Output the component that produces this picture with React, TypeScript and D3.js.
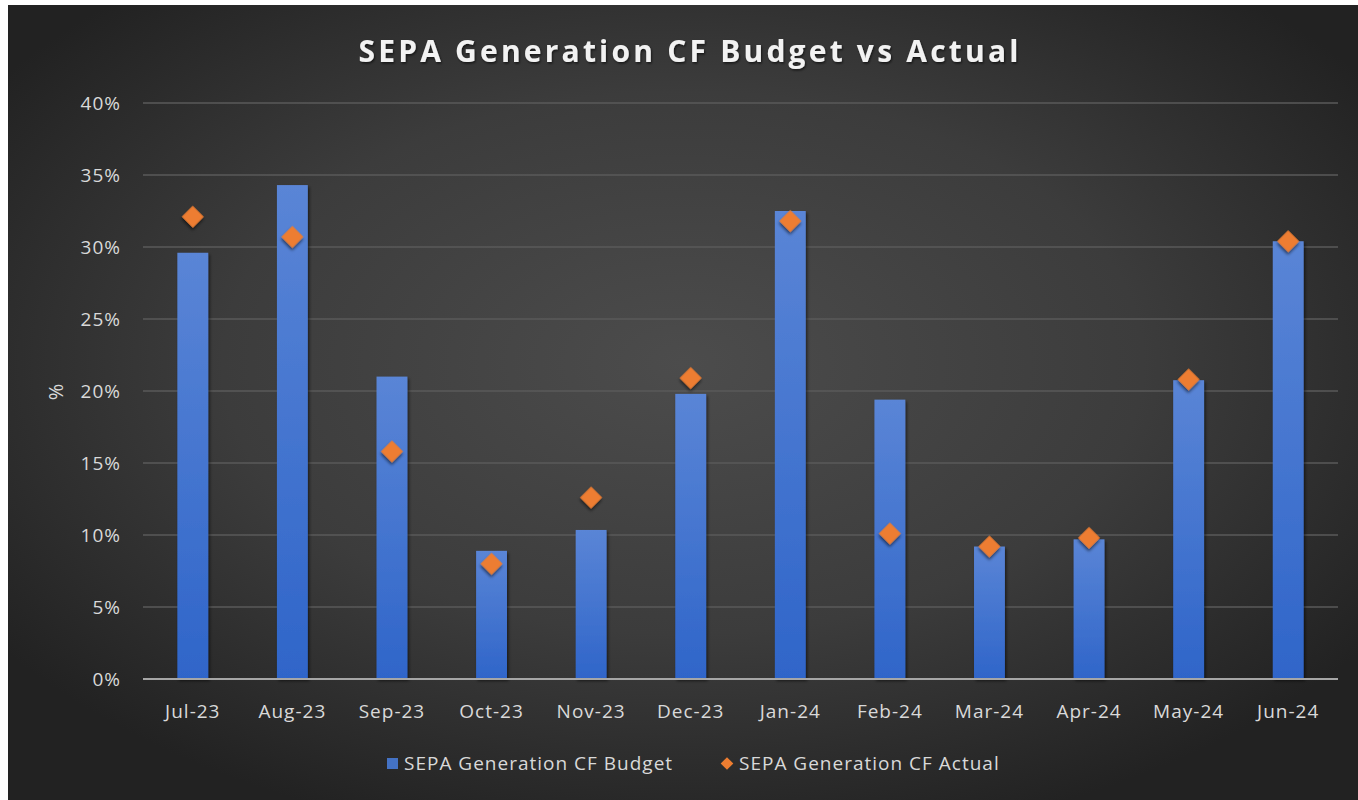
import React from "react";
import * as d3 from "d3";

const months = ["Jul-23", "Aug-23", "Sep-23", "Oct-23", "Nov-23", "Dec-23", "Jan-24", "Feb-24", "Mar-24", "Apr-24", "May-24", "Jun-24"];
const budget = [0.296, 0.343, 0.210, 0.089, 0.1035, 0.198, 0.325, 0.194, 0.092, 0.097, 0.2075, 0.304];
const actual = [0.321, 0.307, 0.158, 0.080, 0.126, 0.209, 0.318, 0.101, 0.092, 0.098, 0.208, 0.304];
const yTicks = [0, 0.05, 0.1, 0.15, 0.2, 0.25, 0.3, 0.35, 0.4];
const titleText = "SEPA Generation CF Budget vs Actual";
const budgetLabel = "SEPA Generation CF Budget";
const actualLabel = "SEPA Generation CF Actual";

const W = 1358;
const H = 800;
const FONT = "'Open Sans', 'DejaVu Sans', sans-serif";
const LS = 1;

export default function App() {
  const x = d3.scaleBand<string>().domain(months).range([143, 1338]).paddingInner(0.69).paddingOuter(0.345);
  const y = d3.scaleLinear().domain([0, 0.4]).range([679, 103]);
  const fmt = d3.format(".0%");
  const diamond = d3.symbol(d3.symbolSquare, 243)() as string;
  const legendDiamond = d3.symbol(d3.symbolSquare, 80)() as string;

  return (
    <svg width={W} height={H} style={{ position: "fixed", left: 0, top: 0, background: "#ffffff" }}>
      <defs>
        <radialGradient id="bg" cx="0.5" cy="0.45" r="0.62">
          <stop offset="0" stopColor="#4c4c4c" />
          <stop offset="0.55" stopColor="#3c3c3c" />
          <stop offset="1" stopColor="#222222" />
        </radialGradient>
        <linearGradient id="bar" x1="0" y1="0" x2="0" y2="1">
          <stop offset="0" stopColor="#5a85d6" />
          <stop offset="1" stopColor="#2f65c9" />
        </linearGradient>
        <filter id="shadow" x="-50%" y="-50%" width="200%" height="200%">
          <feDropShadow dx="1.5" dy="2" stdDeviation="1.5" floodColor="#000" floodOpacity="0.55" />
        </filter>
        <filter id="tshadow" x="-10%" y="-30%" width="120%" height="160%">
          <feDropShadow dx="1" dy="1.5" stdDeviation="1" floodColor="#000" floodOpacity="0.6" />
        </filter>
      </defs>
      <rect x={8} y={5} width={W - 8} height={H - 5} fill="url(#bg)" />

      <text x={690} y={62} textAnchor="middle" fill="#f2f2f2" fontFamily={FONT} fontWeight={700} fontSize={30} letterSpacing={3.2} filter="url(#tshadow)">
        {titleText}
      </text>

      {yTicks.map((t) => (
        <g key={t}>
          {t > 0 && <line x1={143} x2={1338} y1={y(t)} y2={y(t)} stroke="#5a5a5a" strokeWidth={1.5} />}
          <text x={121} y={y(t)} dy="0.35em" textAnchor="end" fill="#d9d9d9" fontFamily={FONT} fontSize={19} letterSpacing={LS}>
            {fmt(t)}
          </text>
        </g>
      ))}

      <text transform={`translate(63,392) rotate(-90)`} textAnchor="middle" fill="#d9d9d9" fontFamily={FONT} fontSize={20}>
        %
      </text>

      {months.map((m, i) => (
        <rect key={m} x={x(m)} y={y(budget[i])} width={x.bandwidth()} height={y(0) - y(budget[i])} fill="url(#bar)" filter="url(#shadow)" />
      ))}

      <line x1={143} x2={1338} y1={y(0)} y2={y(0)} stroke="#a6a6a6" strokeWidth={2} />

      {months.map((m, i) => (
        <path key={m} d={diamond} transform={`translate(${(x(m) as number) + x.bandwidth() / 2},${y(actual[i])}) rotate(45)`} fill="#ed7d31" filter="url(#shadow)" />
      ))}

      {months.map((m) => (
        <text key={m} x={(x(m) as number) + x.bandwidth() / 2} y={718} textAnchor="middle" fill="#d9d9d9" fontFamily={FONT} fontSize={19} letterSpacing={LS}>
          {m}
        </text>
      ))}

      <rect x={387} y={758} width={11} height={11} fill="#4472c4" />
      <text x={404} y={770} fill="#d9d9d9" fontFamily={FONT} fontSize={19} letterSpacing={LS}>{budgetLabel}</text>
      <path d={legendDiamond} transform="translate(727,763.5) rotate(45)" fill="#ed7d31" />
      <text x={739} y={770} fill="#d9d9d9" fontFamily={FONT} fontSize={19} letterSpacing={LS}>{actualLabel}</text>
    </svg>
  );
}
